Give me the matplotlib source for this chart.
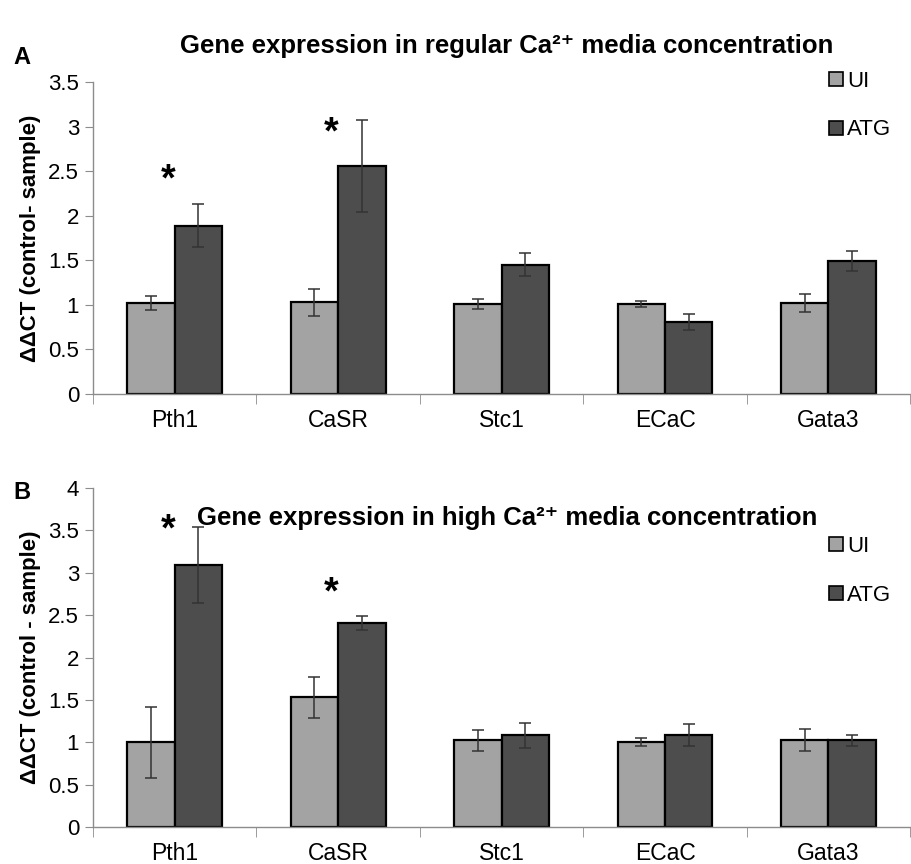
import numpy as np
import matplotlib
matplotlib.use("Agg")
import matplotlib.pyplot as plt

plt.rcParams['font.family'] = ['Liberation Sans', 'DejaVu Sans']

genes = ["Pth1", "CaSR", "Stc1", "ECaC", "Gata3"]
series = ["UI", "ATG"]

# panel A: regular Ca2+ media
a_ui = [1.02, 1.03, 1.01, 1.01, 1.02]
a_ui_err = [0.08, 0.15, 0.06, 0.03, 0.10]
a_atg = [1.89, 2.56, 1.45, 0.81, 1.49]
a_atg_err = [0.24, 0.52, 0.13, 0.09, 0.11]
a_star_y = [2.40, 2.92]

# panel B: high Ca2+ media
b_ui = [1.00, 1.53, 1.02, 1.00, 1.02]
b_ui_err = [0.42, 0.24, 0.12, 0.05, 0.13]
b_atg = [3.09, 2.41, 1.08, 1.09, 1.02]
b_atg_err = [0.45, 0.08, 0.15, 0.13, 0.06]
b_star_y = [3.50, 2.76]

ui_color = "#a3a3a3"
atg_color = "#4d4d4d"
spine_color = "#8c8c8c"


def draw_panel(ax, ui, ui_err, atg, atg_err, star_y, ymax, yticks, ylabel, leg_y):
    x = np.arange(len(genes)) + 0.5
    w = 0.29
    ekw = dict(ecolor="#333333", elinewidth=1.1, capsize=4.5, capthick=1.1)
    ax.bar(x - w / 2, ui, w, color=ui_color, edgecolor="black", linewidth=1.6,
           yerr=ui_err, error_kw=ekw, label=series[0], zorder=2)
    ax.bar(x + w / 2, atg, w, color=atg_color, edgecolor="black", linewidth=1.6,
           yerr=atg_err, error_kw=ekw, label=series[1], zorder=2)
    for i, sy in enumerate(star_y):
        ax.text(x[i] - 0.04, sy, "*", ha="center", va="center", fontsize=27,
                fontweight="bold")
    ax.set_xlim(0, len(genes))
    ax.set_ylim(0, ymax)
    ax.set_yticks(yticks)
    ax.set_yticklabels([("%g" % t) for t in yticks])
    ax.set_xticks(x)
    ax.set_xticklabels(genes)
    ax.set_xticks(np.arange(len(genes) + 1), minor=True)
    ax.tick_params(axis="x", which="major", length=0, pad=11, labelsize=16.5)
    ax.tick_params(axis="x", which="minor", length=7, color=spine_color, direction="out")
    ax.tick_params(axis="y", length=6, color=spine_color, labelsize=16, pad=4)
    for s in ["top", "right"]:
        ax.spines[s].set_visible(False)
    for s in ["left", "bottom"]:
        ax.spines[s].set_color(spine_color)
        ax.spines[s].set_linewidth(1.0)
    ax.set_ylabel(ylabel, fontsize=16, fontweight="bold", labelpad=5)
    leg = ax.legend(loc="upper left", bbox_to_anchor=(0.89, leg_y), frameon=False,
                    fontsize=16, handlelength=0.6, handleheight=0.6,
                    handletextpad=0.2, labelspacing=1.25, borderaxespad=0)
    for h in leg.legend_handles:
        h.set_linewidth(1.2)
        h.set_edgecolor("black")


fig = plt.figure(figsize=(9.12, 8.64), dpi=100)

ax1 = fig.add_axes([0.102, 0.544, 0.896, 0.361])
draw_panel(ax1, a_ui, a_ui_err, a_atg, a_atg_err, a_star_y, 3.5,
           np.arange(0, 3.51, 0.5), "ΔΔCT (control- sample)", 1.065)
ax2 = fig.add_axes([0.102, 0.043, 0.896, 0.392])
draw_panel(ax2, b_ui, b_ui_err, b_atg, b_atg_err, b_star_y, 4,
           np.arange(0, 4.01, 0.5), "ΔΔCT (control - sample)", 0.885)

fig.text(0.556, 0.947, "Gene expression in regular Ca²⁺ media concentration",
         ha="center", va="center", fontsize=18.5, fontweight="bold")
fig.text(0.556, 0.401, "Gene expression in high Ca²⁺ media concentration",
         ha="center", va="center", fontsize=18.5, fontweight="bold")
fig.text(0.015, 0.934, "A", fontsize=17, fontweight="bold", va="center")
fig.text(0.015, 0.430, "B", fontsize=17, fontweight="bold", va="center")

fig.savefig("out.png", dpi=100)
